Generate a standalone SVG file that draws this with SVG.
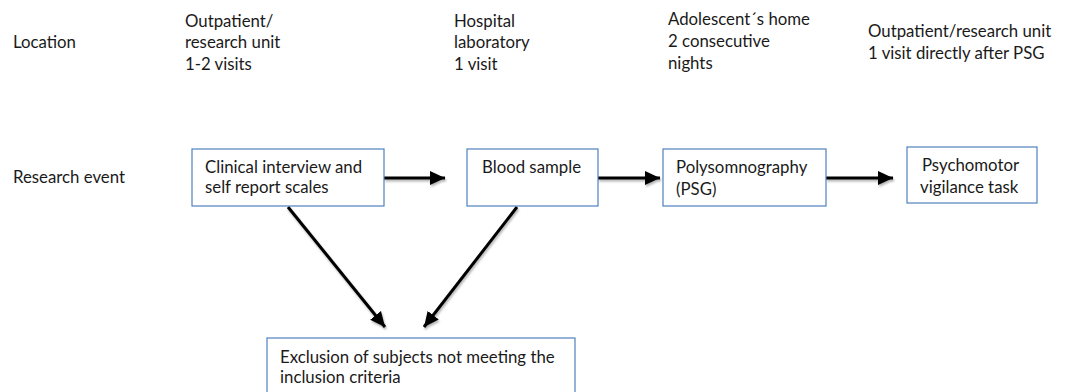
<svg xmlns="http://www.w3.org/2000/svg" width="1067" height="392" viewBox="0 0 1067 392">
<style>
text{font-family:Lato,"Liberation Sans",sans-serif;font-size:16.8px;fill:#1a1a1a}
.box{fill:#fff;stroke:#4f81bd;stroke-width:1.2}
.conn{stroke:#000;stroke-width:3;fill:none;marker-end:url(#ah)}
</style>
<defs>
<marker id="ah" markerUnits="userSpaceOnUse" markerWidth="16" markerHeight="16" viewBox="0 0 16 16" refX="15" refY="8" orient="auto">
<path d="M0,1 L15,8 L0,15 Z" fill="#000"/>
</marker>
<filter id="sh" x="-20%" y="-20%" width="140%" height="140%">
<feDropShadow dx="1" dy="2" stdDeviation="1.2" flood-color="#000" flood-opacity="0.3"/>
</filter>
</defs>
<g id="labels">
<text x="13" y="48">Location</text>
<text x="13" y="183">Research event</text>
</g>
<g id="loc1"><text x="185" y="26.5">Outpatient/</text><text x="185" y="48.3">research unit</text><text x="185" y="70">1-2 visits</text></g>
<g id="loc2"><text x="454" y="26.5">Hospital</text><text x="454" y="48.3">laboratory</text><text x="454" y="70">1 visit</text></g>
<g id="loc3"><text x="668" y="25">Adolescent´s home</text><text x="668" y="47">2 consecutive</text><text x="668" y="68.5">nights</text></g>
<g id="loc4"><text x="868" y="37">Outpatient/research unit</text><text x="868" y="58.5">1 visit directly after PSG</text></g>
<g id="connectors" filter="url(#sh)">
<line class="conn" x1="384" y1="178" x2="445" y2="178"/>
<line class="conn" x1="598" y1="178" x2="660" y2="178"/>
<line class="conn" x1="826" y1="178" x2="893" y2="178"/>
<line class="conn" x1="288" y1="207" x2="385" y2="327"/>
<line class="conn" x1="517" y1="207" x2="424" y2="327"/>
</g>
<g id="n1"><rect class="box" x="192" y="149" width="192" height="57"/><text x="205" y="173">Clinical interview and</text><text x="205" y="193">self report scales</text></g>
<g id="n2"><rect class="box" x="467" y="149" width="131" height="57"/><text x="482" y="173">Blood sample</text></g>
<g id="n3"><rect class="box" x="663" y="149" width="163" height="57"/><text x="676" y="173">Polysomnography</text><text x="676" y="195">(PSG)</text></g>
<g id="n4"><rect class="box" x="907" y="147" width="130" height="56"/><text x="922" y="171">Psychomotor</text><text x="920" y="193">vigilance task</text></g>
<g id="n5"><rect class="box" x="267" y="338" width="308" height="60"/><text x="280" y="363">Exclusion of subjects not meeting the</text><text x="280" y="383">inclusion criteria</text></g>
</svg>
